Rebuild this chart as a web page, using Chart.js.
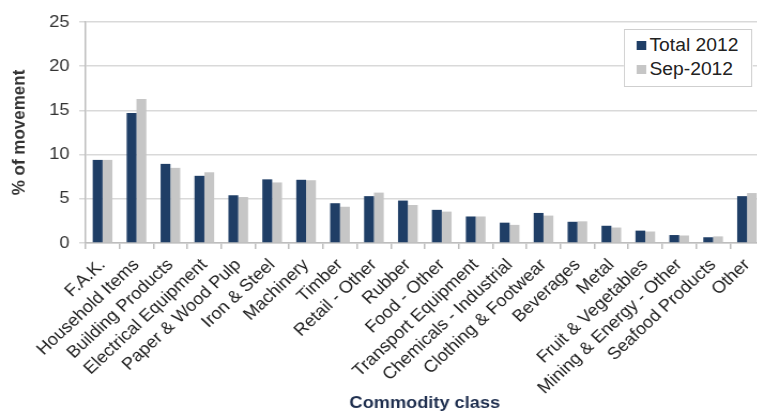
<!DOCTYPE html>
<html>
<head>
<meta charset="utf-8">
<script src="https://cdn.jsdelivr.net/npm/chart.js@4"></script>
<style>
  html, body { margin: 0; padding: 0; background: #fff; overflow: hidden; }
  /* the original picture is slightly stretched sideways */
  #wrap { position: relative; width: 721px; height: 415px; transform: scaleX(1.07); transform-origin: 0 0; }
  #legend {
    position: absolute; left: 583px; top: 29px; width: 118px; height: 56px;
    border: 1.5px solid #cfcfcf; background: #fff;
    font-family: "Liberation Sans", Arial, sans-serif; font-size: 18px; color: #222;
  }
  .item { position: absolute; left: 11px; height: 20px; line-height: 20px; white-space: nowrap; }
  .item span.box { display: inline-block; width: 9px; height: 9px; margin-right: 3px; vertical-align: 1px; }
</style>
</head>
<body>
<div id="wrap">
  <canvas id="chart" width="721" height="415"></canvas>
  <div id="legend"></div>
</div>
<script>
// categories and values (% of movement)
const categories = [
  "F.A.K.", "Household Items", "Building Products", "Electrical Equipment",
  "Paper & Wood Pulp", "Iron & Steel", "Machinery", "Timber", "Retail - Other",
  "Rubber", "Food - Other", "Transport Equipment", "Chemicals - Industrial",
  "Clothing & Footwear", "Beverages", "Metal", "Fruit & Vegetables",
  "Mining & Energy - Other", "Seafood Products", "Other"
];
const total2012 = [9.4, 14.7, 8.95, 7.6, 5.4, 7.2, 7.15, 4.5, 5.3, 4.8, 3.75, 3.0, 2.3, 3.4, 2.4, 1.95, 1.4, 0.9, 0.65, 5.3];
const sep2012 = [9.4, 16.3, 8.5, 8.0, 5.2, 6.85, 7.1, 4.1, 5.7, 4.3, 3.55, 3.0, 2.05, 3.1, 2.45, 1.75, 1.3, 0.85, 0.75, 5.65];
const seriesNames = ["Total 2012", "Sep-2012"];
const seriesColors = ["#1f3e66", "#c6c6c6"];

const font = "'Liberation Sans', Arial, sans-serif";

const chart = new Chart(document.getElementById("chart"), {
  type: "bar",
  data: {
    labels: categories,
    datasets: [
      { label: seriesNames[0], data: total2012, backgroundColor: seriesColors[0] },
      { label: seriesNames[1], data: sep2012, backgroundColor: seriesColors[1] }
    ]
  },
  options: {
    responsive: false,
    animation: false,
    devicePixelRatio: 1,
    layout: { padding: { top: 22, right: 7, left: 0, bottom: 0 } },
    datasets: { bar: { barPercentage: 1, categoryPercentage: 0.58 } },
    plugins: { legend: { display: false }, tooltip: { enabled: false } },
    scales: {
      x: {
        afterFit: (s) => { s.height = 172; },
        grid: { drawOnChartArea: false, color: "#bdbdbd", lineWidth: 1.5, tickLength: 6 },
        border: { color: "#bdbdbd", width: 1.5 },
        ticks: {
          autoSkip: false, minRotation: 45, maxRotation: 45, padding: 6,
          color: "#222", font: { family: font, size: 17 }
        },
        title: {
          display: true, text: "Commodity class", color: "#1f2f4f",
          font: { family: font, size: 17, weight: "bold" }, padding: { top: 0, bottom: 1 }
        }
      },
      y: {
        min: 0, max: 25,
        afterFit: (s) => { s.width = 80; },
        grid: { color: "#d9d9d9", lineWidth: 1.5, tickLength: 6 },
        border: { color: "#bdbdbd", width: 1.5 },
        ticks: { stepSize: 5, padding: 9, color: "#333", font: { family: font, size: 17 } },
        title: {
          display: true, text: "% of movement", color: "#333",
          font: { family: font, size: 17, weight: "bold" }, padding: { top: 8, bottom: 0 }
        }
      }
    }
  }
});

// legend box in the top right, built from the datasets
const legend = document.getElementById("legend");
chart.data.datasets.forEach((ds, i) => {
  const item = document.createElement("div");
  item.className = "item";
  item.style.top = (5 + i * 24) + "px";
  item.innerHTML = '<span class="box" style="background:' + ds.backgroundColor + '"></span>' + ds.label;
  legend.appendChild(item);
});
</script>
</body>
</html>
